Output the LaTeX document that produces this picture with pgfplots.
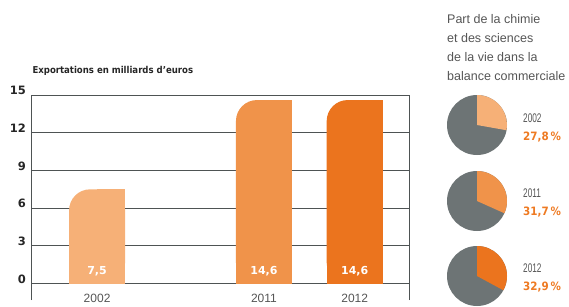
\documentclass[border=0pt]{standalone}
\usepackage{pgfplots}
\pgfplotsset{compat=1.18}
\usepackage{fontspec}
\setmainfont{Liberation Sans}
\newfontfamily\deja{DejaVu Sans}
\newfontfamily\dejac[FakeStretch=0.9]{DejaVu Sans}
\newfontfamily\narrow[FakeStretch=0.66]{Liberation Sans}
\definecolor{cA}{HTML}{F6B077}
\definecolor{cB}{HTML}{F0934A}
\definecolor{cC}{HTML}{EB741E}
\definecolor{gridc}{HTML}{4E5354}
\definecolor{pieg}{HTML}{6D7475}
\definecolor{txt}{HTML}{555555}
\definecolor{pct}{HTML}{EE7A22}
\begin{document}
\begin{tikzpicture}[x=1pt,y=1pt]
\useasboundingbox (0,0) rectangle (569,306);
\begin{axis}[
  at={(31pt,6pt)}, anchor=south west,
  scale only axis, width=378pt, height=205pt,
  xmin=0, xmax=6.75, ymin=-1.3, ymax=15,
  ytick={0,3,...,15},
  xtick={1.18,4.16,5.78}, xticklabels={2002,2011,2012},
  major tick length=0pt,
  /pgf/number format/assume math mode=true,
  ymajorgrids, grid style={gridc, line width=1pt},
  separate axis lines,
  axis line style={gridc, line width=1pt},
  x axis line style={draw=none},
  yticklabel style={font=\deja\bfseries\fontsize{11.5}{11.5}\selectfont, text=black!85, xshift=-1.5pt, yshift=4.5pt},
  xticklabel style={font=\fontsize{12}{12}\selectfont, text=txt, anchor=base, yshift=-2.5pt},
  clip=false,
]
% 2002
\addplot[ybar, bar width=1, bar shift=0pt, fill=cA, draw=none, rounded corners=21pt] coordinates {(1.18,7.5)};
\addplot[ybar, bar width=0.5, bar shift=0pt, fill=cA, draw=none] coordinates {(1.43,7.5)};
\addplot[ybar, bar width=1, bar shift=0pt, fill=cA, draw=none] coordinates {(1.18,5.5)};
% 2011
\addplot[ybar, bar width=1, bar shift=0pt, fill=cB, draw=none, rounded corners=21pt] coordinates {(4.16,14.6)};
\addplot[ybar, bar width=0.5, bar shift=0pt, fill=cB, draw=none] coordinates {(4.41,14.6)};
\addplot[ybar, bar width=1, bar shift=0pt, fill=cB, draw=none] coordinates {(4.16,12.6)};
% 2012
\addplot[ybar, bar width=1, bar shift=0pt, fill=cC, draw=none, rounded corners=21pt] coordinates {(5.78,14.6)};
\addplot[ybar, bar width=0.5, bar shift=0pt, fill=cC, draw=none] coordinates {(6.03,14.6)};
\addplot[ybar, bar width=1, bar shift=0pt, fill=cC, draw=none] coordinates {(5.78,12.6)};
\node[font=\deja\bfseries\fontsize{11}{11}\selectfont, text=white] at (axis cs:1.18,0) [yshift=12pt] {7,5};
\node[font=\deja\bfseries\fontsize{11}{11}\selectfont, text=white] at (axis cs:4.16,0) [yshift=12pt] {14,6};
\node[font=\deja\bfseries\fontsize{11}{11}\selectfont, text=white] at (axis cs:5.78,0) [yshift=12pt] {14,6};
\end{axis}
% pies
\begin{axis}[at={(447pt,0pt)}, anchor=south west, x=1pt, y=1pt,
  xmin=0, xmax=122, ymin=0, ymax=306, hide axis, clip=false]
\fill[pieg] (axis cs:30,181) circle[radius=30pt];
\fill[cA] (axis cs:30,181) -- (axis cs:30,211) arc[start angle=90, delta angle=-100.08, radius=30pt] -- cycle;
\fill[pieg] (axis cs:30,105) circle[radius=30pt];
\fill[cB] (axis cs:30,105) -- (axis cs:30,135) arc[start angle=90, delta angle=-114.12, radius=30pt] -- cycle;
\fill[pieg] (axis cs:30,30) circle[radius=30pt];
\fill[cC] (axis cs:30,30) -- (axis cs:30,60) arc[start angle=90, delta angle=-118.44, radius=30pt] -- cycle;
\end{axis}
\node[anchor=base west, font=\dejac\bfseries\fontsize{9.5}{9.5}\selectfont, text=black!85] at (29,233) {Exportations en milliards d’euros};
\begin{scope}[every node/.style={anchor=base west, font=\fontsize{12.5}{12.5}\selectfont, text=txt, inner sep=0pt}]
\node at (447,282) {Part de la chimie};
\node at (447,264) {et des sciences};
\node at (447,245) {de la vie dans la};
\node at (447,226) {balance commerciale};
\end{scope}
\begin{scope}[every node/.style={anchor=base west, inner sep=0pt}]
\node[font=\narrow\fontsize{12.5}{12.5}\selectfont, text=txt] at (523,184) {2002};
\node[font=\dejac\bfseries\fontsize{11.5}{11.5}\selectfont, text=pct] at (523,166) {27,8\,\%};
\node[font=\narrow\fontsize{12.5}{12.5}\selectfont, text=txt] at (523,109) {2011};
\node[font=\dejac\bfseries\fontsize{11.5}{11.5}\selectfont, text=pct] at (523,91) {31,7\,\%};
\node[font=\narrow\fontsize{12.5}{12.5}\selectfont, text=txt] at (523,34) {2012};
\node[font=\dejac\bfseries\fontsize{11.5}{11.5}\selectfont, text=pct] at (523,16) {32,9\,\%};
\end{scope}
\end{tikzpicture}
\end{document}
